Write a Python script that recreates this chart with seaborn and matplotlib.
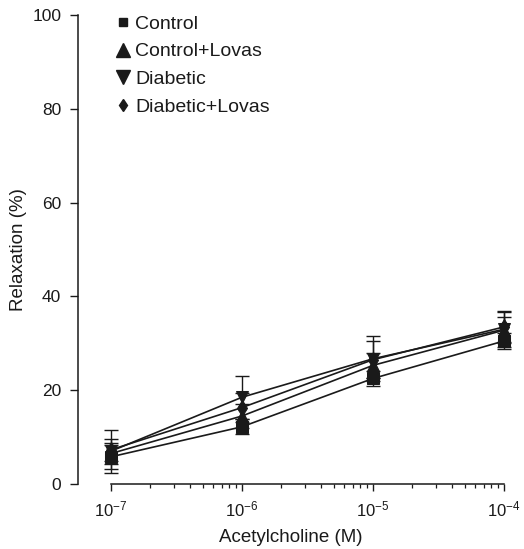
import numpy as np
import pandas as pd
import matplotlib
matplotlib.use("Agg")
import matplotlib.pyplot as plt
from matplotlib.lines import Line2D
from matplotlib.ticker import FixedLocator
import seaborn as sns

sns.set_style("ticks")
plt.rcParams['font.family'] = ['Liberation Sans', 'DejaVu Sans']
plt.rcParams['mathtext.fontset'] = 'custom'
plt.rcParams['mathtext.rm'] = 'Liberation Sans'
plt.rcParams['mathtext.it'] = 'Liberation Sans'

concentrations = [1e-7, 1e-6, 1e-5, 1e-4]
groups = ["Control", "Control+Lovas", "Diabetic", "Diabetic+Lovas"]
control = [5.8, 12.2, 22.5, 30.5]
control_err = [2.5, 1.6, 1.6, 1.8]
control_lovas = [6.5, 14.5, 25.3, 32.8]
control_lovas_err = [2.3, 2.5, 2.6, 2.8]
diabetic = [7.0, 18.5, 26.7, 33.0]
diabetic_err = [4.6, 4.6, 4.8, 3.8]
diabetic_lovas = [7.3, 16.3, 26.5, 33.5]
diabetic_lovas_err = [2.3, 3.0, 4.0, 3.2]

values = [control, control_lovas, diabetic, diabetic_lovas]
errors = [control_err, control_lovas_err, diabetic_err, diabetic_lovas_err]
markers = {"Control": "s", "Control+Lovas": "^", "Diabetic": "v", "Diabetic+Lovas": "d"}

rows = []
for g, v in zip(groups, values):
    for c, y in zip(concentrations, v):
        rows.append({"conc": c, "relax": y, "group": g})
df = pd.DataFrame(rows)

ink = '#1a1a1a'
fig = plt.figure(figsize=(5.24, 5.49), dpi=100)
ax = fig.add_axes([78/524, 65/549, (504-78)/524, 469/549])

for g, v, e in zip(groups, values, errors):
    ax.errorbar(concentrations, v, yerr=e, fmt='none', ecolor=ink,
                elinewidth=1.0, capsize=5, capthick=1.0, clip_on=False, zorder=2)

sns.lineplot(data=df, x="conc", y="relax", hue="group", style="group",
             markers=markers, dashes=False, palette=[ink]*4,
             markersize=8, markeredgecolor=ink, linewidth=1.2,
             legend=False, ax=ax, clip_on=False, zorder=3)

ax.set_xscale("log")
ax.set_xlim(10**(-7.252), 1e-4)
ax.set_ylim(0, 100)
ax.set_yticks([0, 20, 40, 60, 80, 100])
ax.set_xticks(concentrations)
ax.xaxis.set_minor_locator(FixedLocator([k * 10.0**e for e in (-7, -6, -5) for k in range(2, 10)]))
ax.set_xticklabels([r"$10^{-7}$", r"$10^{-6}$", r"$10^{-5}$", r"$10^{-4}$"])
ax.spines['bottom'].set_bounds(1e-7, 1e-4)
sns.despine(ax=ax)
ax.tick_params(axis='y', which='major', length=6, width=1.0, colors=ink, labelsize=12.5, pad=6)
ax.tick_params(axis='x', which='major', length=5, width=1.0, colors=ink, labelsize=12, pad=6)
ax.tick_params(axis='x', which='minor', length=3, width=0.9, colors=ink)
for s in ['left', 'bottom']:
    ax.spines[s].set_linewidth(1.1)
    ax.spines[s].set_color(ink)
ax.set_xlabel("Acetylcholine (M)", fontsize=13.5, color=ink, labelpad=7)
ax.set_ylabel("Relaxation (%)", fontsize=13.5, color=ink, labelpad=4)

handles = [Line2D([], [], linestyle='none', marker=markers[g], color=ink,
                  markersize={"s": 6, "^": 10, "v": 10, "d": 6}[markers[g]]) for g in groups]
fig.legend(handles, groups, loc='upper left', bbox_to_anchor=(116/524, 1 - 15/549),
           frameon=False, fontsize=14, handlelength=0.7, handletextpad=0.3,
           labelspacing=0.52, borderaxespad=0, borderpad=0, labelcolor=ink)

fig.savefig("out.png", dpi=100)
